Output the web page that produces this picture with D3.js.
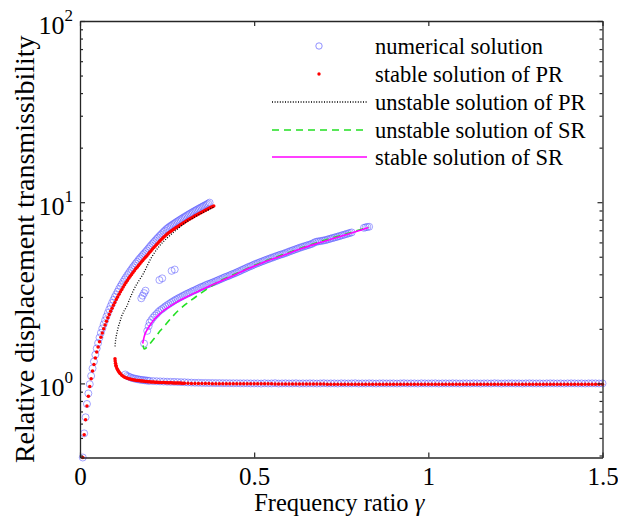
<!DOCTYPE html>
<html><head><meta charset="utf-8">
<script src="https://cdn.jsdelivr.net/npm/d3@7"></script>
<style>
body{margin:0;background:#fff}
svg{display:block}
text{font-family:"Liberation Serif","Times New Roman",serif;fill:#000}
</style>
</head><body>
<svg id="c" width="618" height="524"></svg>
<script>
// ---------- axis ticks ----------
const xTicks = [0, 0.5, 1, 1.5];
const xTickLabels = ["0", "0.5", "1", "1.5"];
const yTicks = [1, 10, 100];
const yTickExponents = ["0", "1", "2"];
const yMinorTicks = [0.4,0.5,0.6,0.7,0.8,0.9,2,3,4,5,6,7,8,9,20,30,40,50,60,70,80,90];

// ---------- legend ----------
const legendLabels = ["numerical solution","stable solution of PR","unstable solution of PR","unstable solution of SR","stable solution of SR"];

// ---------- numerical solution (circles) ----------
const numRiseG = [0.008,0.012,0.016,0.020,0.024,0.028,0.032,0.036,0.040,0.044,0.048,0.052,0.056,0.060,0.064,0.068,0.072,0.076,0.080,0.084,0.088,0.092,0.096,0.100,0.104,0.108,0.112,0.116,0.120,0.124,0.128,0.132,0.136,0.140,0.144,0.148,0.152,0.156,0.160,0.164,0.168,0.172,0.176,0.180,0.184,0.188,0.192,0.196,0.200,0.204,0.208,0.212,0.216,0.220,0.224,0.228,0.232,0.236,0.240,0.244,0.248,0.252,0.256,0.260,0.264,0.268,0.272,0.276,0.280,0.284,0.288,0.292,0.296,0.300,0.304,0.308,0.312,0.316,0.320,0.324,0.328,0.332,0.336,0.340,0.344,0.348,0.352,0.356,0.360,0.364,0.368,0.372];
const numRiseV = [0.39,0.53,0.65,0.77,0.88,0.99,1.10,1.21,1.32,1.44,1.56,1.67,1.79,1.90,2.01,2.12,2.23,2.34,2.45,2.56,2.67,2.78,2.89,3.00,3.10,3.21,3.32,3.43,3.53,3.64,3.75,3.85,3.96,4.06,4.17,4.27,4.38,4.48,4.59,4.69,4.80,4.90,5.00,5.11,5.21,5.31,5.42,5.54,5.66,5.78,5.90,6.02,6.14,6.26,6.38,6.50,6.62,6.74,6.86,6.98,7.10,7.20,7.30,7.39,7.48,7.57,7.66,7.75,7.84,7.93,8.02,8.11,8.20,8.29,8.38,8.47,8.56,8.65,8.74,8.83,8.92,9.01,9.10,9.19,9.28,9.37,9.46,9.55,9.64,9.73,9.83,9.95];

const numJumpG = [0.176,0.180,0.184,0.188,0.228,0.236,0.263,0.272];
const numJumpV = [2.95,3.05,3.15,3.25,3.72,3.80,4.18,4.25];

const numSRG = [0.184,0.193,0.197,0.200,0.205,0.210,0.215,0.220,0.225,0.230,0.235,0.240,0.245,0.250,0.255,0.260,0.265,0.270,0.275,0.280,0.285,0.290,0.295,0.300,0.305,0.310,0.315,0.320,0.325,0.330,0.335,0.340,0.345,0.350,0.355,0.360,0.365,0.370,0.375,0.380,0.385,0.390,0.395,0.400,0.405,0.410,0.415,0.420,0.425,0.430,0.435,0.440,0.445,0.450,0.455,0.460,0.465,0.470,0.475,0.480,0.485,0.490,0.495,0.500,0.505,0.510,0.515,0.520,0.525,0.530,0.535,0.540,0.545,0.550,0.555,0.560,0.565,0.570,0.575,0.580,0.585,0.590,0.595,0.600,0.605,0.610,0.615,0.620,0.625,0.630,0.635,0.640,0.645,0.650,0.655,0.660,0.665,0.670,0.675,0.680,0.685,0.690,0.695,0.700,0.705,0.710,0.715,0.720,0.725,0.730,0.735,0.740,0.745,0.750,0.755,0.760,0.765,0.770,0.775,0.780,0.815,0.820,0.825,0.830];
const numSRV = [1.66,1.95,2.07,2.17,2.24,2.31,2.37,2.42,2.48,2.53,2.57,2.61,2.66,2.70,2.74,2.78,2.82,2.86,2.90,2.93,2.97,3.00,3.04,3.07,3.11,3.14,3.17,3.21,3.24,3.27,3.31,3.34,3.38,3.41,3.44,3.48,3.51,3.54,3.57,3.60,3.63,3.67,3.70,3.74,3.77,3.81,3.85,3.88,3.91,3.95,3.99,4.02,4.06,4.10,4.14,4.18,4.23,4.27,4.31,4.36,4.40,4.44,4.48,4.53,4.57,4.61,4.65,4.69,4.73,4.77,4.81,4.85,4.89,4.93,4.97,5.01,5.05,5.09,5.13,5.16,5.20,5.24,5.29,5.33,5.38,5.42,5.46,5.51,5.55,5.60,5.64,5.68,5.72,5.76,5.80,5.84,5.88,5.95,6.02,6.06,6.08,6.10,6.13,6.15,6.18,6.22,6.26,6.30,6.34,6.38,6.42,6.46,6.50,6.55,6.59,6.63,6.68,6.72,6.77,6.81,7.22,7.27,7.30,7.32];

const numLowG = [
  0.130,0.135,0.140,0.145,0.150,0.155,0.160,0.165,0.170,0.175,
  0.180,0.185,0.190,0.195,0.200,
  0.21,0.22,0.23,0.24,0.25,0.26,0.27,0.28,0.29,0.30];
const numLowV = [
  1.12,1.10,1.09,1.08,1.07,1.065,1.06,1.055,1.05,1.047,
  1.044,1.041,1.038,1.035,1.033,
  1.03,1.028,1.026,1.024,1.022,1.02,1.02,1.018,1.016,1.015];
const numFlatG = [
  0.31,0.32,0.33,0.34,0.35,0.36,0.37,0.38,0.39,0.40,
  0.41,0.42,0.43,0.44,0.45,0.46,0.47,0.48,0.49,0.50,
  0.51,0.52,0.53,0.54,0.55,0.56,0.57,0.58,0.59,0.60,
  0.61,0.62,0.63,0.64,0.65,0.66,0.67,0.68,0.69,0.70,
  0.71,0.72,0.73,0.74,0.75,0.76,0.77,0.78,0.79,0.80,
  0.81,0.82,0.83,0.84,0.85,0.86,0.87,0.88,0.89,0.90,
  0.91,0.92,0.93,0.94,0.95,0.96,0.97,0.98,0.99,1.00,
  1.01,1.02,1.03,1.04,1.05,1.06,1.07,1.08,1.09,1.10,
  1.11,1.12,1.13,1.14,1.15,1.16,1.17,1.18,1.19,1.20,
  1.21,1.22,1.23,1.24,1.25,1.26,1.27,1.28,1.29,1.30,
  1.31,1.32,1.33,1.34,1.35,1.36,1.37,1.38,1.39,1.40,
  1.41,1.42,1.43,1.44,1.45,1.46,1.47,1.48,1.49,1.50];
const numFlatV = [
  1.012,1.010,1.008,1.008,1.006,1.006,1.005,1.005,1.004,1.004,
  1.003,1.003,1.002,1.002,1.002,1.001,1.001,1.001,1.000,1.000,
  1.000,0.998,1.002,0.999,1.000,1.003,0.998,1.000,1.001,0.999,
  1.000,1.002,0.998,1.000,0.999,1.001,1.000,0.998,1.000,1.002,
  0.999,1.000,1.000,0.998,1.001,1.000,0.999,1.000,1.002,0.998,
  1.000,0.999,1.001,1.000,0.998,1.000,1.001,0.999,1.000,1.000,
  0.998,1.000,1.002,0.999,1.000,1.000,0.998,1.001,1.000,0.999,
  1.000,1.001,0.998,1.000,1.000,0.999,1.001,1.000,0.998,1.000,
  1.000,0.999,1.001,1.000,0.998,1.000,1.000,0.999,1.002,1.000,
  0.998,1.000,1.000,1.001,0.999,1.000,0.998,1.000,1.001,1.000,
  0.999,1.000,0.998,1.000,1.001,1.000,0.999,1.000,0.998,1.000,
  1.001,1.000,0.999,1.000,0.998,1.000,1.001,1.000,0.999,1.000];

// ---------- stable solution of PR (red dots) ----------
const prStableRiseG = [0.008,0.012,0.016,0.020,0.024,0.028,0.032,0.036,0.040,0.044,0.048,0.052,0.056,0.060,0.064,0.068,0.072,0.076,0.080,0.084,0.088,0.092,0.096,0.100,0.104,0.108,0.112,0.116,0.120,0.124,0.128,0.132,0.136,0.140,0.144,0.148,0.152,0.156,0.160,0.164,0.168,0.172,0.176,0.180,0.184,0.188,0.192,0.196,0.200,0.204,0.208,0.212,0.216,0.220,0.224,0.228,0.232,0.236,0.240,0.244,0.248,0.252,0.256,0.260,0.264,0.268,0.272,0.276,0.280,0.284,0.288,0.292,0.296,0.300,0.304,0.308,0.312,0.316,0.320,0.324,0.328,0.332,0.336,0.340,0.344,0.348,0.352,0.356,0.360,0.364,0.368,0.372,0.376,0.380,0.384];
const prStableRiseV = [0.39,0.52,0.63,0.75,0.85,0.96,1.06,1.17,1.27,1.38,1.49,1.59,1.70,1.80,1.90,2.00,2.10,2.20,2.30,2.40,2.50,2.60,2.70,2.80,2.90,3.00,3.10,3.20,3.30,3.40,3.50,3.60,3.70,3.80,3.90,3.99,4.09,4.19,4.29,4.38,4.48,4.58,4.68,4.77,4.87,4.97,5.07,5.18,5.29,5.40,5.51,5.62,5.73,5.85,5.96,6.07,6.18,6.29,6.40,6.51,6.62,6.71,6.80,6.89,6.98,7.07,7.16,7.24,7.33,7.42,7.50,7.59,7.68,7.76,7.85,7.93,8.02,8.10,8.19,8.27,8.36,8.44,8.53,8.61,8.70,8.78,8.87,8.95,9.04,9.12,9.21,9.29,9.37,9.45,9.52];

const prStableLowG = [
  0.1005,0.101,0.102,0.103,0.104,0.106,0.108,0.110,0.112,0.114,
  0.116,0.120,0.124,0.128,0.132,0.136,0.140,0.144,0.148,0.152,
  0.156,0.160,0.164,0.168,0.172,0.176,0.180,0.184,0.188,0.192,
  0.196,0.200,0.204,0.208,0.212,0.216,0.220,0.224,0.228,0.232,
  0.236,0.240,0.244,0.248,0.252,0.256,0.260,0.264,0.268,0.272,
  0.276,0.280,0.284,0.288,0.292,0.296,0.300];
const prStableLowV = [
  1.37,1.33,1.29,1.26,1.24,1.21,1.19,1.17,1.155,1.14,
  1.13,1.11,1.095,1.083,1.074,1.067,1.061,1.056,1.052,1.048,
  1.045,1.042,1.039,1.036,1.034,1.032,1.030,1.028,1.026,1.024,
  1.022,1.020,1.019,1.018,1.017,1.016,1.015,1.014,1.013,1.012,
  1.011,1.010,1.010,1.009,1.008,1.008,1.007,1.007,1.006,1.006,
  1.005,1.005,1.004,1.004,1.003,1.003,1.002];
const prStableFlatG = [
  0.31,0.32,0.33,0.34,0.35,0.36,0.37,0.38,0.39,0.40,
  0.41,0.42,0.43,0.44,0.45,0.46,0.47,0.48,0.49,0.50,
  0.51,0.52,0.53,0.54,0.55,0.56,0.57,0.58,0.59,0.60,
  0.61,0.62,0.63,0.64,0.65,0.66,0.67,0.68,0.69,0.70,
  0.71,0.72,0.73,0.74,0.75,0.76,0.77,0.78,0.79,0.80,
  0.81,0.82,0.83,0.84,0.85,0.86,0.87,0.88,0.89,0.90,
  0.91,0.92,0.93,0.94,0.95,0.96,0.97,0.98,0.99,1.00,
  1.01,1.02,1.03,1.04,1.05,1.06,1.07,1.08,1.09,1.10,
  1.11,1.12,1.13,1.14,1.15,1.16,1.17,1.18,1.19,1.20,
  1.21,1.22,1.23,1.24,1.25,1.26,1.27,1.28,1.29,1.30,
  1.31,1.32,1.33,1.34,1.35,1.36,1.37,1.38,1.39,1.40,
  1.41,1.42,1.43,1.44,1.45,1.46,1.47,1.48,1.49,1.50];
const prStableFlatV = [
  1.001,1.000,1.000,0.999,0.999,0.998,0.998,0.997,0.997,0.996,
  0.996,0.996,0.995,0.995,0.995,0.995,0.995,0.995,0.995,0.995,
  0.994,0.994,0.994,0.994,0.994,0.993,0.993,0.993,0.993,0.993,
  0.992,0.992,0.992,0.992,0.992,0.991,0.991,0.991,0.991,0.991,
  0.990,0.990,0.990,0.990,0.990,0.990,0.990,0.990,0.990,0.990,
  0.990,0.990,0.990,0.990,0.990,0.990,0.990,0.990,0.990,0.990,
  0.990,0.990,0.990,0.990,0.990,0.990,0.990,0.990,0.990,0.990,
  0.990,0.990,0.990,0.990,0.990,0.990,0.990,0.990,0.990,0.990,
  0.990,0.990,0.990,0.990,0.990,0.990,0.990,0.990,0.990,0.990,
  0.990,0.990,0.990,0.990,0.990,0.990,0.990,0.990,0.990,0.990,
  0.990,0.990,0.990,0.990,0.990,0.990,0.990,0.990,0.990,0.990,
  0.990,0.990,0.990,0.990,0.990,0.990,0.990,0.990,0.990,0.990];

// ---------- unstable solution of PR (black dotted) ----------
const prUnstableG = [0.1005,0.102,0.104,0.107,0.110,0.115,0.120,0.127,0.134,0.145,0.160,0.182,0.205,0.230,0.260,0.306,0.340,0.385];
const prUnstableV = [1.60,1.72,1.82,1.94,2.05,2.20,2.36,2.52,2.66,3.00,3.45,4.04,4.95,5.79,6.60,7.78,8.50,9.42];

// ---------- unstable solution of SR (green dashed) ----------
const srUnstableG = [0.181,0.184,0.190,0.200,0.210,0.220,0.230,0.245,0.258,0.280,0.300,0.316,0.340,0.370,0.400,0.450,0.517,0.584,0.680,0.775,0.828];
const srUnstableV = [1.62,1.55,1.57,1.65,1.74,1.84,1.95,2.10,2.25,2.50,2.70,2.85,3.08,3.37,3.66,4.05,4.62,5.15,5.98,6.78,7.28];

// ---------- stable solution of SR (magenta solid) ----------
const srStableG = [0.180,0.184,0.188,0.193,0.200,0.210,0.230,0.250,0.278,0.300,0.325,0.350,0.380,0.421,0.450,0.480,0.517,0.550,0.584,0.630,0.680,0.730,0.775,0.800,0.828];
const srStableV = [1.66,1.80,1.90,1.98,2.08,2.22,2.43,2.60,2.81,2.96,3.13,3.30,3.50,3.79,4.02,4.28,4.58,4.84,5.09,5.50,5.91,6.32,6.71,6.95,7.25];

// ================= drawing =================
const L = 80, R = 602.5, T = 21, B = 457.5;
const x = d3.scaleLinear().domain([0, 1.5]).range([L, R]);
const y = d3.scaleLog().domain([0.39, 100]).range([B, T]);
const svg = d3.select("#c");
const axisColor = "#262626";
const zip = (g, v) => g.slice(0, Math.min(g.length, v.length)).map((d, i) => [d, v[i]]);

const plot = svg.append("g");

// numerical solution circles
const numPts = [].concat(zip(numRiseG, numRiseV), zip(numJumpG, numJumpV), zip(numSRG, numSRV), zip(numLowG, numLowV), zip(numFlatG, numFlatV));
plot.append("g").selectAll("circle").data(numPts).join("circle")
  .attr("cx", d => x(d[0])).attr("cy", d => y(d[1])).attr("r", 3.5)
  .attr("fill", "none").attr("stroke", "#5b5bff").attr("stroke-opacity", 0.7).attr("stroke-width", 0.8);

// red stable PR dots
const redPts = [].concat(zip(prStableRiseG, prStableRiseV), zip(prStableLowG, prStableLowV), zip(prStableFlatG, prStableFlatV));
plot.append("g").selectAll("circle").data(redPts).join("circle")
  .attr("cx", d => x(d[0])).attr("cy", d => y(d[1])).attr("r", 1.75).attr("fill", "#ff0000");

const lineC = d3.line().x(d => x(d[0])).y(d => y(d[1])).curve(d3.curveCatmullRom);

plot.append("path").datum(zip(prUnstableG, prUnstableV)).attr("d", lineC)
  .attr("fill", "none").attr("stroke", "#000").attr("stroke-width", 1.3).attr("stroke-dasharray", "1,1.6");
plot.append("path").datum(zip(srUnstableG, srUnstableV)).attr("d", lineC)
  .attr("fill", "none").attr("stroke", "#22e022").attr("stroke-width", 1.6).attr("stroke-dasharray", "7,5");
plot.append("path").datum(zip(srStableG, srStableV)).attr("d", lineC)
  .attr("fill", "none").attr("stroke", "#ff00ff").attr("stroke-width", 1.6);

// axes
const ax = svg.append("g");
function styleAxis(g) {
  g.select(".domain").attr("stroke", axisColor).attr("stroke-width", 1.3);
  g.selectAll(".tick line").attr("stroke", axisColor).attr("stroke-width", 1.2);
}
ax.append("g").attr("transform", `translate(0,${B})`)
  .call(d3.axisBottom(x).tickValues(xTicks).tickSize(-5).tickSizeOuter(0).tickPadding(10).tickFormat((d, i) => xTickLabels[i]))
  .call(styleAxis)
  .call(g => g.selectAll("text").attr("font-size", 25).attr("fill", "#000").attr("dy", "0.71em"));
ax.append("g").attr("transform", `translate(0,${T})`)
  .call(d3.axisTop(x).tickValues(xTicks).tickSize(-5).tickSizeOuter(0).tickFormat(""))
  .call(styleAxis);
ax.append("g").attr("transform", `translate(${L},0)`)
  .call(d3.axisLeft(y).tickValues(yTicks).tickSize(-5).tickSizeOuter(0).tickFormat(""))
  .call(styleAxis);
ax.append("g").attr("transform", `translate(${L},0)`)
  .call(d3.axisLeft(y).tickValues(yMinorTicks).tickSize(-3).tickSizeOuter(0).tickFormat(""))
  .call(styleAxis).call(g => g.select(".domain").remove());
ax.append("g").attr("transform", `translate(${R},0)`)
  .call(d3.axisRight(y).tickValues(yTicks).tickSize(-5).tickSizeOuter(0).tickFormat(""))
  .call(styleAxis);
ax.append("g").attr("transform", `translate(${R},0)`)
  .call(d3.axisRight(y).tickValues(yMinorTicks).tickSize(-3).tickSizeOuter(0).tickFormat(""))
  .call(styleAxis).call(g => g.select(".domain").remove());

// y tick labels 10^k
yTicks.forEach((v, i) => {
  const t = svg.append("text").attr("x", 73).attr("y", y(v) + 13).attr("text-anchor", "end").attr("font-size", 26);
  t.append("tspan").text("10");
  t.append("tspan").attr("font-size", 17).attr("dy", -13).text(yTickExponents[i]);
});

// axis titles
svg.append("text").attr("x", (L + R) / 2 - 2).attr("y", 511).attr("text-anchor", "middle").attr("font-size", 24.5)
  .call(t => { t.append("tspan").text("Frequency ratio "); t.append("tspan").attr("font-style", "italic").text("γ"); });
svg.append("text").attr("transform", `translate(34,${(T + B) / 2 + 10}) rotate(-90)`).attr("text-anchor", "middle").attr("font-size", 28)
  .text("Relative displacement transmissibility");

// legend
const legY = [46, 74, 102, 130, 157];
const lg = svg.append("g");
lg.append("circle").attr("cx", 319).attr("cy", legY[0]).attr("r", 3.2).attr("fill", "none").attr("stroke", "#5b5bff").attr("stroke-opacity", 0.75).attr("stroke-width", 0.9);
lg.append("circle").attr("cx", 319).attr("cy", legY[1]).attr("r", 1.7).attr("fill", "#ff0000");
lg.append("line").attr("x1", 272).attr("x2", 367).attr("y1", legY[2]).attr("y2", legY[2]).attr("stroke", "#000").attr("stroke-width", 1.3).attr("stroke-dasharray", "1,1.6");
lg.append("line").attr("x1", 272).attr("x2", 367).attr("y1", legY[3]).attr("y2", legY[3]).attr("stroke", "#22e022").attr("stroke-width", 1.6).attr("stroke-dasharray", "7,5");
lg.append("line").attr("x1", 272).attr("x2", 367).attr("y1", legY[4]).attr("y2", legY[4]).attr("stroke", "#ff00ff").attr("stroke-width", 1.6);
legendLabels.forEach((s, i) => {
  lg.append("text").attr("x", 375).attr("y", legY[i] + 8).attr("font-size", 22.5).text(s);
});
</script>
</body></html>
